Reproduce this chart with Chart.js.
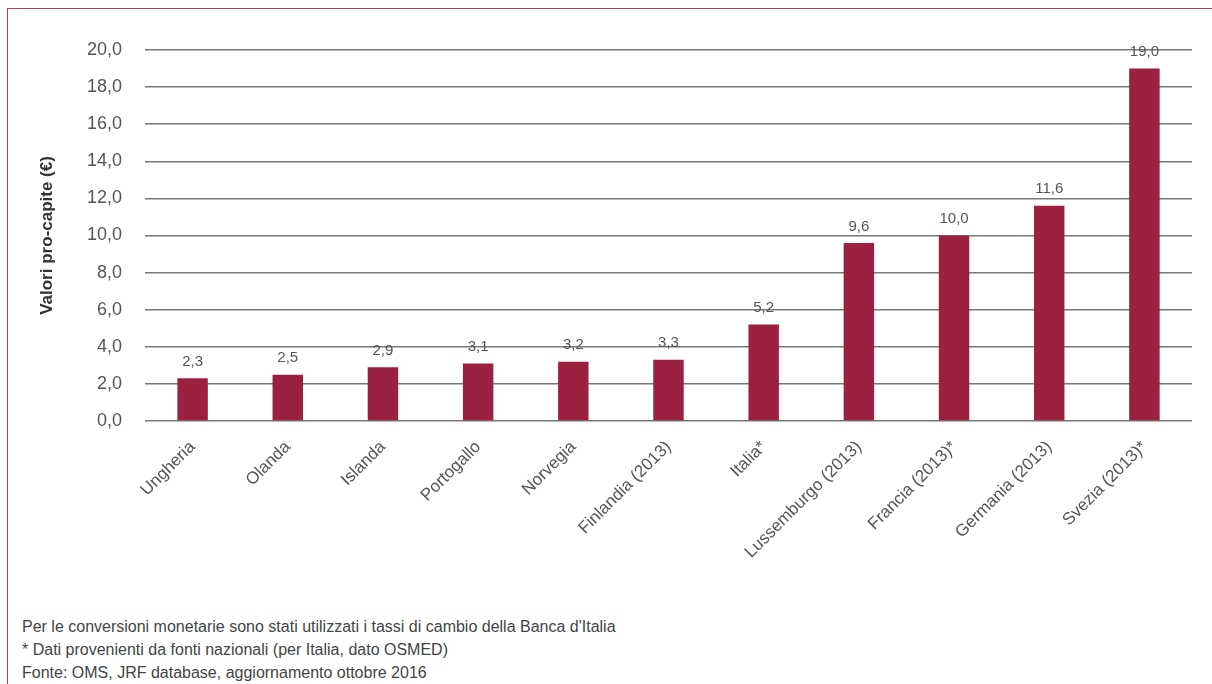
<!DOCTYPE html>
<html>
<head>
<meta charset="utf-8">
<script src="https://cdn.jsdelivr.net/npm/chart.js@4.4.1/dist/chart.umd.min.js"></script>
<style>
  body { margin: 0; background: #fff; }
  #frame {
    position: absolute; left: 7px; top: 8px; width: 1300px; height: 800px;
    border-left: 1.5px solid #c23a58; border-top: 1.5px solid #c23a58;
  }
  #wrap { position: absolute; left: 0; top: 0; width: 1212px; height: 600px; }
  #note {
    position: absolute; left: 22px; top: 615px;
    font-family: "Liberation Sans Narrow", "Arial Narrow", "Liberation Sans", sans-serif;
    font-size: 16px; line-height: 23px; color: #444;
  }
</style>
</head>
<body>
<div id="frame"></div>
<div id="wrap"><canvas id="chart"></canvas></div>
<div id="note">
  Per le conversioni monetarie sono stati utilizzati i tassi di cambio della Banca d'Italia<br>
  * Dati provenienti da fonti nazionali (per Italia, dato OSMED)<br>
  Fonte: OMS, JRF database, aggiornamento ottobre 2016
</div>
<script>
const FONT = '"Liberation Sans Narrow", "Arial Narrow", "Liberation Sans", sans-serif'

let paesi = ['Ungheria', 'Olanda', 'Islanda', 'Portogallo', 'Norvegia', 'Finlandia (2013)',
    'Italia*', 'Lussemburgo (2013)', 'Francia (2013)*', 'Germania (2013)', 'Svezia (2013)*']
let valori = [2.3, 2.5, 2.9, 3.1, 3.2, 3.3, 5.2, 9.6, 10.0, 11.6, 19.0]

let yMin = 0
let yMax = 20
let yStep = 2

function fmt(v) {
    return Number(v).toFixed(1).replace('.', ',')
}

// value labels above each bar
const valueLabels = {
    id: 'valueLabels',
    afterDatasetsDraw(chart) {
        const ctx = chart.ctx
        const meta = chart.getDatasetMeta(0)
        ctx.save()
        ctx.font = '15px ' + FONT
        ctx.fillStyle = '#555'
        ctx.textAlign = 'center'
        ctx.textBaseline = 'bottom'
        meta.data.forEach((bar, i) => {
            ctx.fillText(fmt(valori[i]), bar.x, bar.y - 9)
        })
        ctx.restore()
    }
}

const ctx = document.getElementById('chart').getContext('2d')
const barChart = new Chart(ctx, {
    type: 'bar',
    data: {
        labels: paesi,
        datasets: [{
            data: valori,
            backgroundColor: '#9c2140',
            categoryPercentage: 1.0,
            barPercentage: 0.32
        }]
    },
    options: {
        responsive: true,
        maintainAspectRatio: false,
        animation: false,
        layout: {
            padding: { left: 37, right: 20, top: 50, bottom: 0 }
        },
        plugins: {
            legend: { display: false },
            tooltip: { enabled: false }
        },
        scales: {
            x: {
                grid: { display: false },
                border: { display: false },
                ticks: {
                    minRotation: 45,
                    maxRotation: 45,
                    padding: 8,
                    color: '#555',
                    font: { family: FONT, size: 17 }
                },
                afterFit: (scale) => { scale.height = 179 }
            },
            y: {
                min: yMin,
                max: yMax,
                grid: {
                    color: '#777',
                    lineWidth: 1.5,
                    drawTicks: false
                },
                border: { display: false },
                ticks: {
                    stepSize: yStep,
                    padding: 23,
                    color: '#555',
                    font: { family: FONT, size: 18 },
                    callback: (v) => fmt(v)
                },
                title: {
                    display: true,
                    text: 'Valori pro-capite (€)',
                    color: '#333',
                    font: { family: FONT, size: 17, weight: 'bold' },
                    padding: 0
                },
                afterFit: (scale) => { scale.width = 108 }
            }
        }
    },
    plugins: [valueLabels]
})
</script>
</body>
</html>
